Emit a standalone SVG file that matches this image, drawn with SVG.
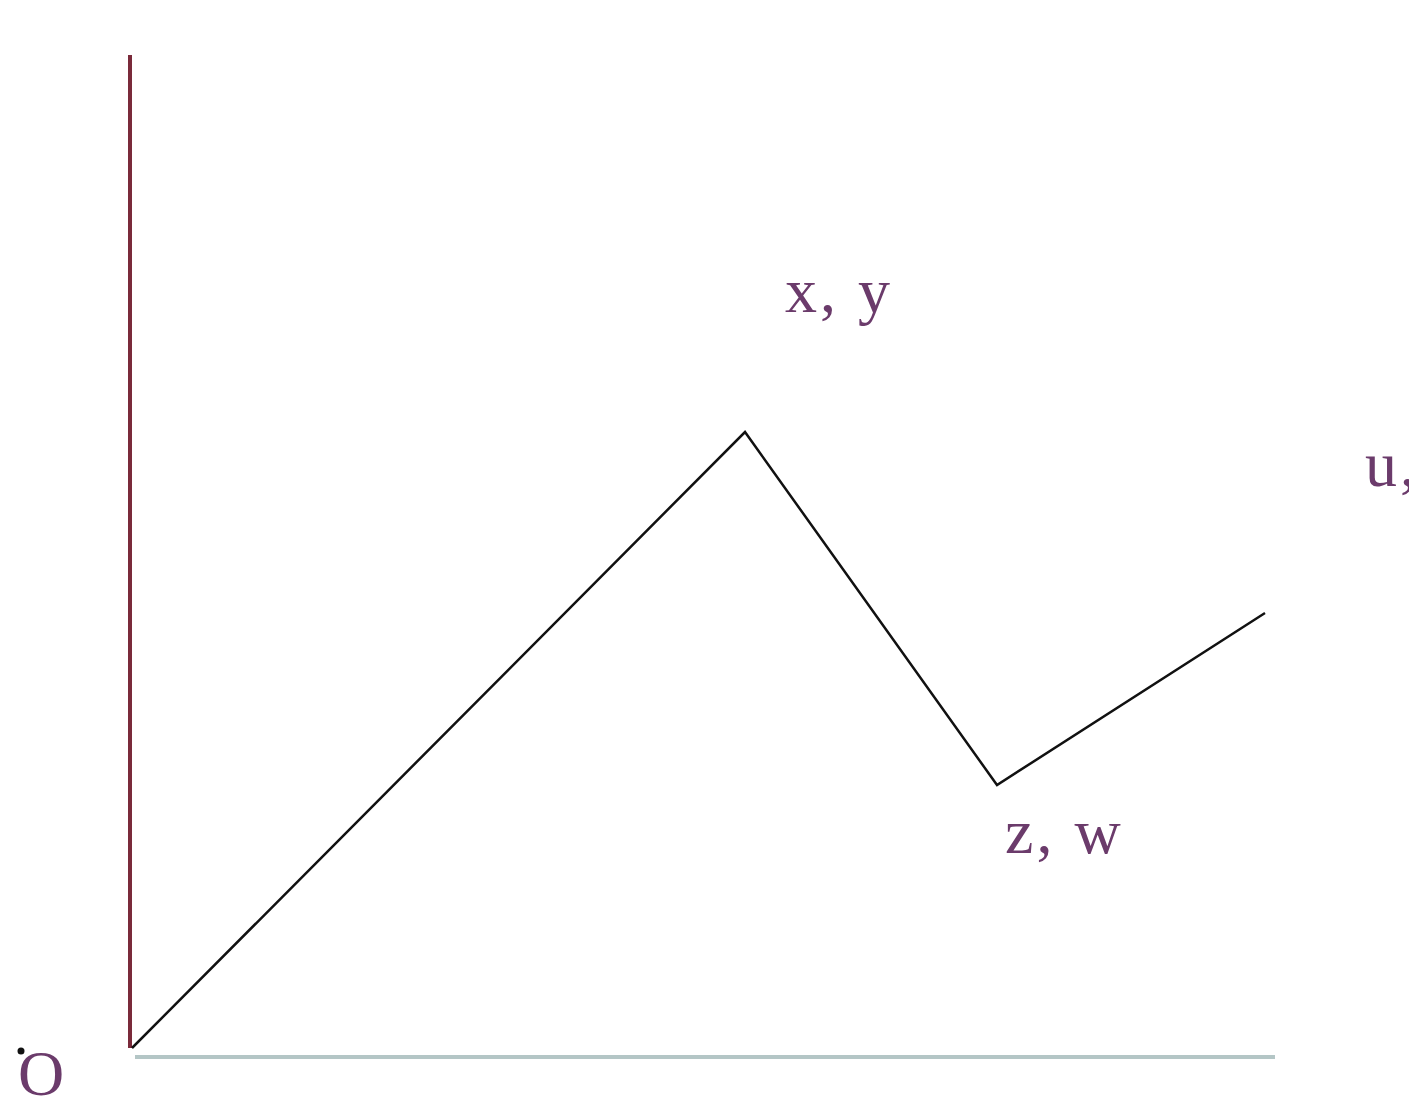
<svg xmlns="http://www.w3.org/2000/svg" width="1409" height="1112" viewBox="0 0 1409 1112">
<style>
.lbl{font-family:"Liberation Serif","DejaVu Serif",serif;font-size:64px;letter-spacing:3px;fill:#6b3b6b}
.ln{fill:none;stroke:#111;stroke-width:2.5}
</style>
<rect width="1409" height="1112" fill="#fff"/>
<g id="axes">
<line x1="130" y1="55" x2="130" y2="1048" stroke="#7a2a3a" stroke-width="4"/>
<line x1="135" y1="1057" x2="1275" y2="1057" stroke="#b4c6c6" stroke-width="4"/>
</g>
<g id="connectors">
<polyline class="ln" points="132,1048 745,432 997,785 1265,613"/>
</g>
<g id="origin"><circle cx="21" cy="1051" r="3.5" fill="#111"/><text class="lbl" x="18" y="1095" font-size="56">O</text></g>
<g id="xy"><text class="lbl" x="785" y="312">x, y</text></g>
<g id="zw"><text class="lbl" x="1005" y="853">z, w</text></g>
<g id="uv"><text class="lbl" x="1365" y="486">u,</text></g>
</svg>
